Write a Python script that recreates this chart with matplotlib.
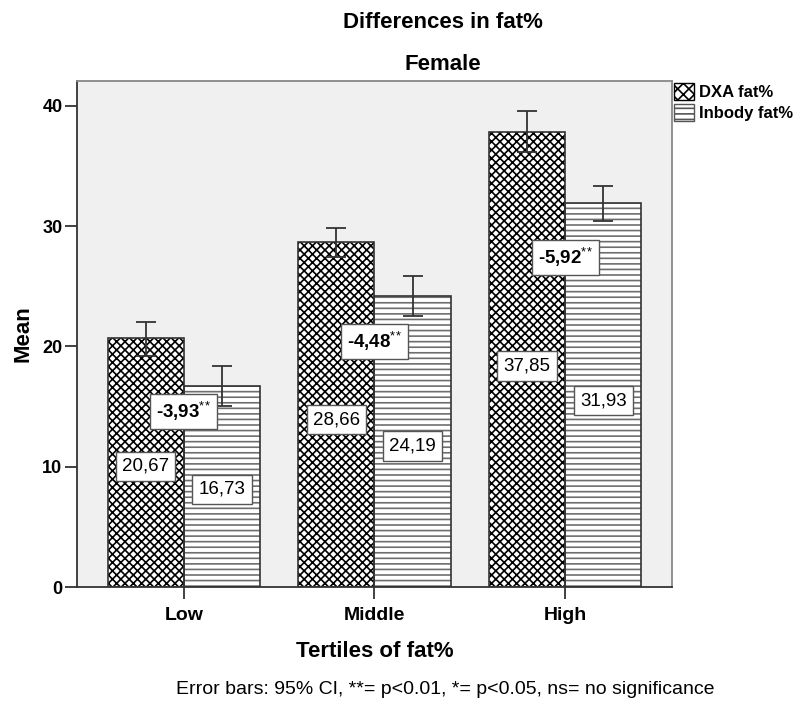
import matplotlib
matplotlib.use("Agg")
import matplotlib.pyplot as plt
from matplotlib.patches import Patch
import numpy as np

plt.rcParams['font.family'] = ['Liberation Sans', 'DejaVu Sans']
plt.rcParams['mathtext.fontset'] = 'custom'
plt.rcParams['mathtext.rm'] = 'Liberation Sans'
plt.rcParams['mathtext.it'] = 'Liberation Sans'
plt.rcParams['hatch.linewidth'] = 1.2

# data
tertiles = ["Low", "Middle", "High"]
dxa_mean = [20.67, 28.66, 37.85]
inbody_mean = [16.73, 24.19, 31.93]
dxa_ci_low = [19.2, 27.46, 36.13]
dxa_ci_high = [22.03, 29.87, 39.57]
inbody_ci_low = [15.07, 22.5, 30.45]
inbody_ci_high = [18.37, 25.85, 33.36]
diff_text = ["-3,93", "-4,48", "-5,92"]
diff_sig = ["**", "**", "**"]

# where the difference boxes sit (layout)
diff_y = [14.6, 20.4, 27.4]

W, H = 803, 711
fig = plt.figure(figsize=(W / 100, H / 100), dpi=100)
ax = fig.add_axes([77 / W, 1 - 587 / H, (672 - 77) / W, (587 - 81) / H])
ax.set_facecolor("#f0f0f0")

x = np.arange(len(tertiles))
w = 0.4
edge = "#333333"

# DXA bars: black crosshatch
ax.bar(x - w / 2, dxa_mean, w, color="white", edgecolor="black", hatch="xxxx", linewidth=0, zorder=2)
ax.bar(x - w / 2, dxa_mean, w, fill=False, edgecolor=edge, linewidth=1.2, zorder=3)
# Inbody bars: grey horizontal lines
ax.bar(x + w / 2, inbody_mean, w, color="white", edgecolor="#6e6e6e", hatch="---", linewidth=0, zorder=2)
ax.bar(x + w / 2, inbody_mean, w, fill=False, edgecolor=edge, linewidth=1.2, zorder=3)

dm = np.array(dxa_mean)
im = np.array(inbody_mean)
ax.errorbar(x - w / 2, dm, yerr=[dm - np.array(dxa_ci_low), np.array(dxa_ci_high) - dm],
            fmt="none", ecolor=edge, elinewidth=1.3, capsize=7, capthick=1.3, zorder=4)
ax.errorbar(x + w / 2, im, yerr=[im - np.array(inbody_ci_low), np.array(inbody_ci_high) - im],
            fmt="none", ecolor=edge, elinewidth=1.3, capsize=7, capthick=1.3, zorder=4)

box = dict(boxstyle="square,pad=0.33", facecolor="white", edgecolor="#555555", linewidth=1)
for i in range(len(tertiles)):
    for xx, v in [(x[i] - w / 2, dxa_mean[i]), (x[i] + w / 2, inbody_mean[i])]:
        ax.text(xx, v * 0.485, f"{v:.2f}".replace(".", ","), ha="center", va="center",
                fontsize=13.5, bbox=box, zorder=5)
    stars = "".join("{" + c + "}" for c in diff_sig[i])
    ax.text(x[i], diff_y[i], diff_text[i] + "$^{" + stars + "}$", ha="center", va="center",
            fontsize=13.5, fontweight="bold", bbox=box, zorder=6)

ax.set_xlim(-0.56, 2.56)
ax.set_ylim(0, 42.06)
ax.set_yticks([0, 10, 20, 30, 40])
ax.set_xticks(x)
ax.set_xticklabels(tertiles)
for lab in ax.get_xticklabels() + ax.get_yticklabels():
    lab.set_fontweight("bold")
ax.tick_params(axis="both", direction="out", length=8.5, width=1.3, color="#333333", pad=6)
ax.tick_params(axis="x", labelsize=14)
ax.tick_params(axis="y", labelsize=13, pad=2)
for s in ["left", "bottom"]:
    ax.spines[s].set_color("#333333")
    ax.spines[s].set_linewidth(1.3)
for s in ["top", "right"]:
    ax.spines[s].set_color("#888888")
    ax.spines[s].set_linewidth(1.3)

ax.set_ylabel("Mean", fontsize=16, fontweight="bold", labelpad=6)
ax.set_xlabel("Tertiles of fat%", fontsize=16, fontweight="bold", labelpad=12)

handles = [Patch(facecolor="white", edgecolor="black", hatch="xxx", label="DXA fat%"),
           Patch(facecolor="white", edgecolor="#555555", hatch="---", label="Inbody fat%")]
ax.legend(handles=handles, loc="upper left", bbox_to_anchor=(1.0, 1.0), borderaxespad=0,
          borderpad=0.1, frameon=False, handlelength=1.2, handleheight=1.2, handletextpad=0.3,
          labelspacing=0.25, prop={"weight": "bold", "size": 12})

fig.text(443 / W, 1 - 23 / H, "Differences in fat%", ha="center", va="center", fontsize=16, fontweight="bold")
fig.text(443 / W, 1 - 65 / H, "Female", ha="center", va="center", fontsize=16, fontweight="bold")
fig.text(445 / W, 1 - 690 / H, "Error bars: 95% CI, **= p<0.01, *= p<0.05, ns= no significance",
         ha="center", va="center", fontsize=14)

fig.savefig("out.png", dpi=100)
